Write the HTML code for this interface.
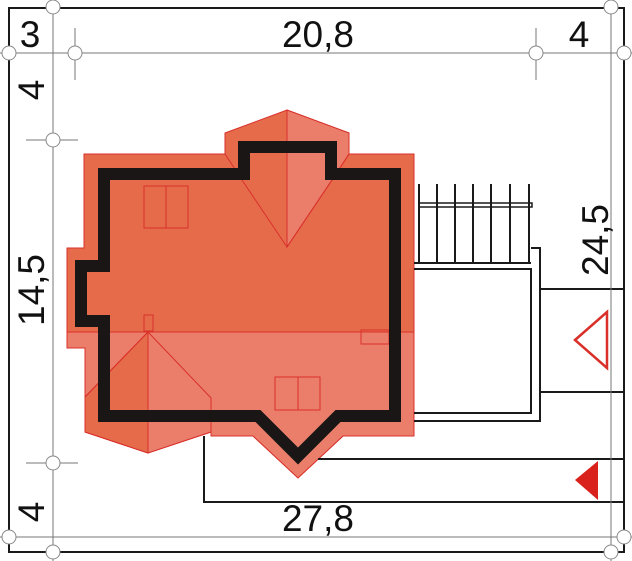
<!DOCTYPE html>
<html><head><style>
html,body{margin:0;padding:0;background:#fff;width:632px;height:561px;overflow:hidden}
svg{display:block}
text{font-family:"Liberation Sans",sans-serif;fill:#111}
</style></head><body>
<svg width="632" height="561" viewBox="0 0 632 561" xmlns="http://www.w3.org/2000/svg">
<!-- roof -->
<g stroke="#d9302a" stroke-width="1">
<path d="M84,154 L225,154 L225,133 L287,110 L349,133 L349,154 L414,154 L414,436 L343,436 L298,478 L253,436 L211,436 L211,432 L148,453 L85,432 L85,348 L67,348 L67,248 L84,248 Z" fill="#e56b4b"/>
<path d="M67,332 L414,332 L414,436 L343,436 L298,478 L253,436 L211,436 L211,432 L148,453 L85,432 L85,348 L67,348 Z" fill="#ea7e6b"/>
<path d="M148,332 L85,397 L85,432 L148,453 Z" fill="#e56b4b"/>
<path d="M287,110 L349,133 L349,154 L332,180 L287,247 Z" fill="#ea7e6b"/>
<path d="M225,154 L242,180 L287,247 L332,180 L349,154" fill="none"/>
<path d="M287,110 L287,247" fill="none"/>
<path d="M148,332 L85,397 M148,332 L211,398 L211,436 M148,332 L148,453" fill="none"/>
<rect x="144" y="186" width="44" height="42" fill="none"/>
<line x1="166" y1="186" x2="166" y2="228"/>
<rect x="275" y="377" width="45" height="33" fill="none"/>
<line x1="298" y1="377" x2="298" y2="410"/>
<rect x="144" y="315" width="9" height="16" fill="none"/>
<rect x="361" y="330" width="28" height="14" fill="none"/>
</g>
<!-- walls -->
<path d="M104,174 L244,174 L244,147 L331,147 L331,174 L395,174 L395,416 L338,416 L298,456 L258,416 L104,416 L104,321 L81,321 L81,266 L104,266 Z" fill="none" stroke="#1a1616" stroke-width="12" stroke-linejoin="miter"/>
<!-- terrace -->
<g stroke="#1a1a1a" stroke-width="2" fill="none">
<line x1="419" y1="184" x2="419" y2="262"/><line x1="437" y1="184" x2="437" y2="262"/>
<line x1="455" y1="184" x2="455" y2="262"/><line x1="473" y1="184" x2="473" y2="262"/>
<line x1="491" y1="184" x2="491" y2="262"/><line x1="510" y1="184" x2="510" y2="262"/>
<line x1="529" y1="184" x2="529" y2="262"/>
<rect x="419" y="203" width="113" height="4" stroke-width="1.5"/>
<line x1="414" y1="263" x2="531" y2="263"/>
<path d="M414,269 L531,269 L531,413 L414,413"/>
<path d="M531,248 L540,248 L540,421 L414,421"/>
<line x1="540" y1="289" x2="624" y2="289"/>
<line x1="540" y1="392" x2="624" y2="392"/>
<line x1="318" y1="459" x2="624" y2="459"/>
<path d="M204,436 L204,502 L624,502"/>
</g>
<polygon points="575,340 607,312 607,368" fill="none" stroke="#d9302a" stroke-width="2.5"/>
<polygon points="575,480 598,461 598,500" fill="#d9221c"/>
<!-- frame -->
<path d="M9,552 L9,8 L624,8 L624,552 Z" fill="none" stroke="#1a1a1a" stroke-width="2"/>
<g stroke="#777" stroke-width="1" fill="none">
<line x1="53" y1="0" x2="53" y2="561"/>
<line x1="611" y1="0" x2="611" y2="561"/>
<line x1="0" y1="53" x2="632" y2="53"/>
<line x1="0" y1="537" x2="632" y2="537"/>
<line x1="75" y1="28" x2="75" y2="80"/>
<line x1="536" y1="28" x2="536" y2="80"/>
<line x1="26" y1="140" x2="78" y2="140"/>
<line x1="26" y1="463" x2="78" y2="463"/>
</g>
<g fill="#fff" stroke="#888" stroke-width="1">
<circle cx="53" cy="7" r="7"/><circle cx="611" cy="7" r="7"/>
<circle cx="9" cy="53" r="7"/><circle cx="75" cy="53" r="7"/>
<circle cx="536" cy="53" r="7"/><circle cx="624" cy="53" r="7"/>
<circle cx="53" cy="140" r="7"/><circle cx="53" cy="463" r="7"/>
<circle cx="9" cy="537" r="7"/><circle cx="624" cy="537" r="7"/>
<circle cx="53" cy="552" r="7"/><circle cx="611" cy="552" r="7"/>
</g>
<!-- labels -->
<text x="30" y="47" font-size="37" text-anchor="middle">3</text>
<text x="318" y="47" font-size="37" text-anchor="middle">20,8</text>
<text x="579" y="47" font-size="37" text-anchor="middle">4</text>
<text x="318" y="531" font-size="37" text-anchor="middle">27,8</text>
<text transform="translate(44,90) rotate(-90)" font-size="37" text-anchor="middle">4</text>
<text transform="translate(44,290) rotate(-90)" font-size="37" text-anchor="middle">14,5</text>
<text transform="translate(44,512) rotate(-90)" font-size="37" text-anchor="middle">4</text>
<text transform="translate(608,240) rotate(-90)" font-size="37" text-anchor="middle">24,5</text>
</svg>
</body></html>
